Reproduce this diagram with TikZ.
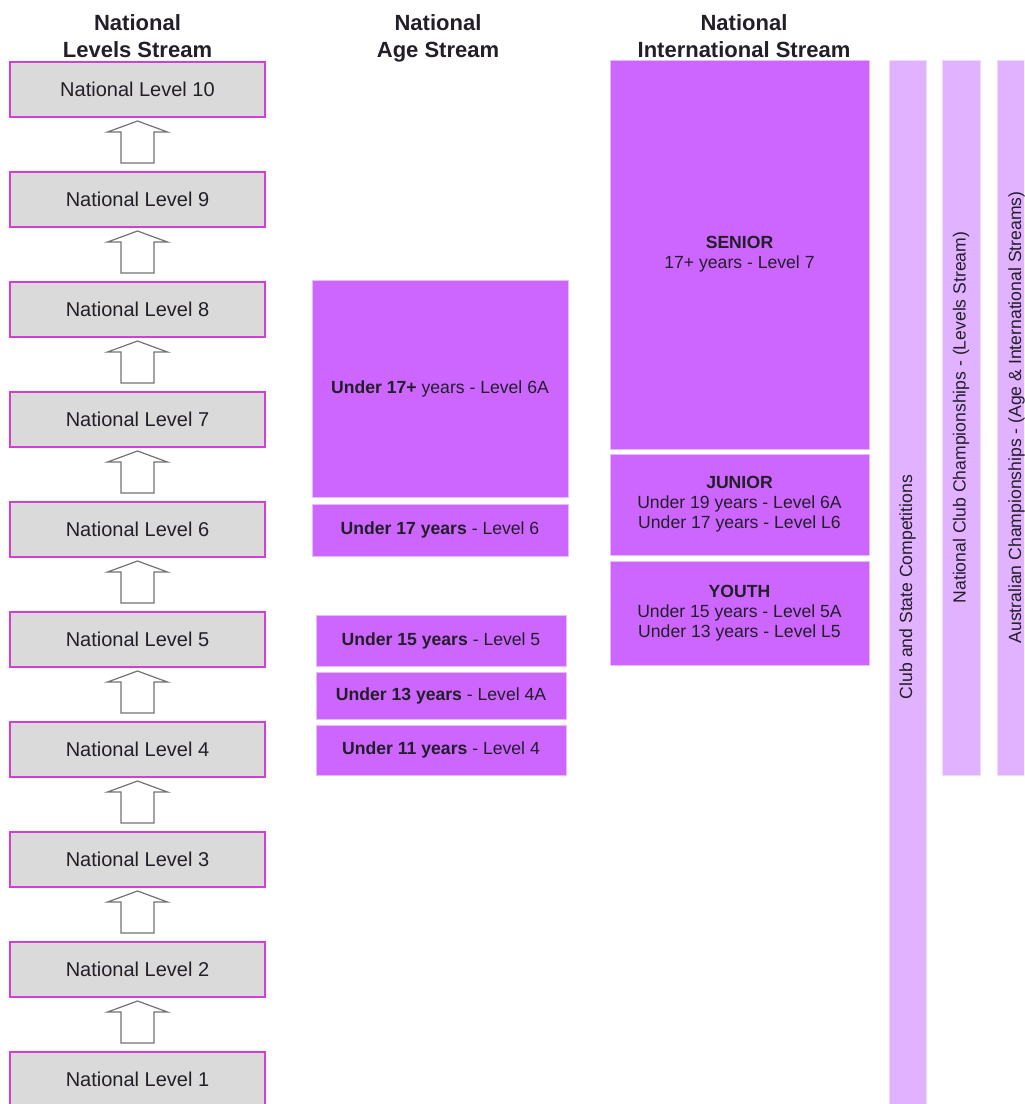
\documentclass[tikz,border=0pt]{standalone}
\usepackage{fontspec}
\setmainfont{Liberation Sans}
\usetikzlibrary{calc}
\definecolor{lvlgray}{RGB}{218,218,218}
\definecolor{lvledge}{RGB}{214,60,214}
\definecolor{agepurple}{RGB}{204,102,255}
\definecolor{barlilac}{RGB}{225,178,255}
\definecolor{txtdark}{RGB}{35,30,40}
\begin{document}
\begin{tikzpicture}[x=0.5pt,y=-0.5pt,
level/.style={fill=lvlgray,draw=lvledge,line width=1pt,minimum width=127.5pt,minimum height=27.5pt,inner sep=0pt,font=\fontsize{10}{12}\selectfont,text=txtdark},
agebox/.style 2 args={fill=agepurple,draw=agepurple!45!white,line width=0.5pt,inner sep=0pt,minimum width=#1,minimum height=#2,font=\fontsize{8.8}{10}\selectfont,align=center,text=txtdark},
bar/.style 2 args={fill=barlilac,draw=barlilac!50!white,line width=0.5pt,inner sep=0pt,rotate=90,minimum width=#1,minimum height=#2,font=\fontsize{8.8}{10}\selectfont,text=txtdark},
head/.style={font=\bfseries\fontsize{11}{13.5}\selectfont,align=center,text=txtdark,anchor=base,inner sep=0pt},
uparrow/.style={draw=black!55,fill=white,line width=0.6pt},
]
\useasboundingbox (0,0) rectangle (1024,1104);
\clip (0,0) rectangle (1024,1104);

% stream titles
\node[head] (hlevels) at (137.5,57) {National\\Levels Stream};
\node[head] (hage) at (438,57) {National\\Age Stream};
\node[head] (hintl) at (744,57) {National\\International Stream};

% levels stream
\foreach \n in {1,...,10}
  \node[level] (l\n) at (137.5,{1079.5-(\n-1)*110}) {National Level \n};
\foreach \n [count=\m from 2] in {1,...,9}
  \draw[uparrow] ($(l\n.north)+(-16.5,-8)$) -- ++(0,-31) -- ++(-13.5,0)
    -- ($(l\m.south)+(0,3)$) -- ($(l\n.north)+(30,-39)$) -- ++(-13.5,0)
    -- ++(0,31) -- cycle;

% age stream
\node[agebox={128pt}{108.5pt}] (u17p) at (440,388.5) {\textbf{Under 17+} years - Level 6A};
\node[agebox={128pt}{26pt}] (u17) at (440,530) {\textbf{Under 17 years} - Level 6};
\node[agebox={125pt}{25.5pt}] (u15) at (441,640.5) {\textbf{Under 15 years} - Level 5};
\node[agebox={125pt}{23.5pt}] (u13) at (441,695.5) {\textbf{Under 13 years} - Level 4A};
\node[agebox={125pt}{25pt}] (u11) at (441,750) {\textbf{Under 11 years} - Level 4};

% international stream
\node[agebox={129.5pt}{194.5pt}] (senior) at (739.5,254.5) {\textbf{SENIOR}\\17+ years - Level 7};
\node[agebox={129.5pt}{50.5pt}] (junior) at (739.5,504.5) {\textbf{JUNIOR}\\Under 19 years - Level 6A\\Under 17 years - Level L6};
\node[agebox={129.5pt}{52pt}] (youth) at (739.5,613) {\textbf{YOUTH}\\Under 15 years - Level 5A\\Under 13 years - Level L5};

% competitions
\node[bar={527pt}{18.5pt}] (club) at (907.5,587) {Club and State Competitions};
\node[bar={357.5pt}{19pt}] (natclub) at (961,417.5) {National Club Championships - (Levels Stream)};
\node[bar={357.5pt}{19.5pt}] (aus) at (1016.5,417.5) {Australian Championships - (Age \& International Streams)};
\end{tikzpicture}
\end{document}
